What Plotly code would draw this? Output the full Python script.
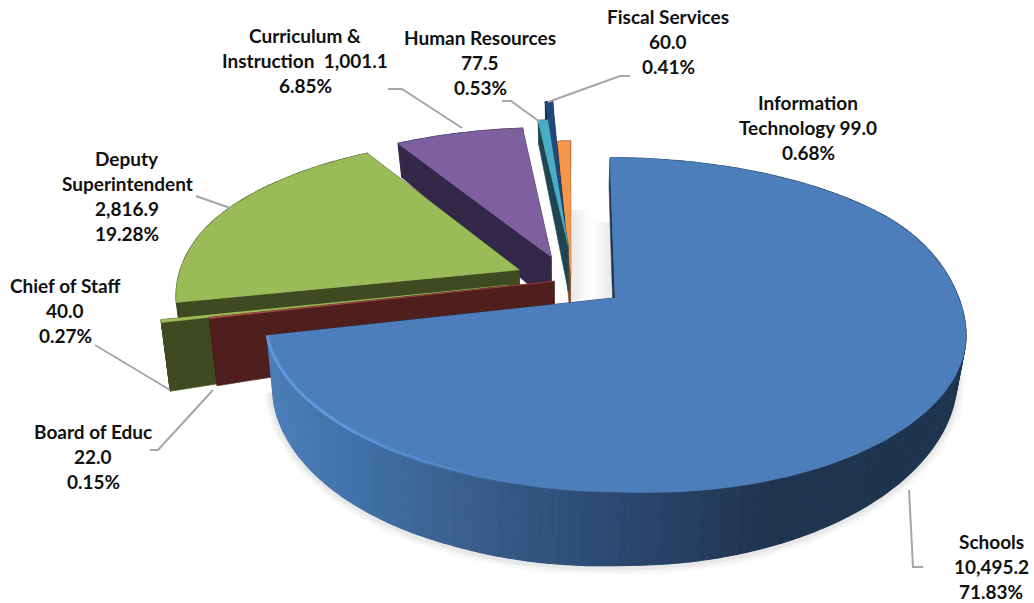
import numpy as np
import plotly.graph_objects as go

names = ["Schools", "Board of Educ", "Chief of Staff", "Deputy Superintendent",
         "Curriculum & Instruction", "Human Resources", "Fiscal Services", "Information Technology"]
amounts = [10495.2, 22.0, 40.0, 2816.9, 1001.1, 77.5, 60.0, 99.0]
percents = [71.83, 0.15, 0.27, 19.28, 6.85, 0.53, 0.41, 0.68]
explode = [0.175, 0.04, 0.175, 0.157, 0.157, 0.22, 0.39, 0.03]
nudge_u = [0, 0, 0, 0, 0, 0.02, 0.012, 0.009]
top_colors = ["#4B7EBB", "#C0504D", "#9BBB59", "#9BBB59", "#7F609F", "#4BACC6", "#1F497D", "#F79646"]
side_colors = ["#1F3550", "#4F1F1E", "#3F4A20", "#3F4A20", "#33274A", "#1F4650", "#10243E", "#7A4A20"]
draw_order = [7, 6, 4, 5, 3, 2, 1, 0]

label_lines = [
    (["Schools", "10,495.2", "71.83%"], 991, 541),
    (["Board of Educ", "22.0", "0.15%"], 93, 431),
    (["Chief of Staff", "40.0", "0.27%"], 65, 285),
    (["Deputy", "Superintendent", "2,816.9", "19.28%"], 127, 158),
    (["Curriculum &", "Instruction  1,001.1", "6.85%"], 305, 35),
    (["Human Resources", "77.5", "0.53%"], 480, 37),
    (["Fiscal Services", "60.0", "0.41%"], 668, 16),
    (["Information", "Technology 99.0", "0.68%"], 808, 102),
]
leaders = [
    [(909, 490), (913, 567), (923, 567)],
    [(213, 390), (158, 450), (150, 450)],
    [(95, 345), (170, 390)],
    [(196, 196), (230, 208)],
    [(388, 89), (402, 89), (462, 128)],
    [(502, 101), (511, 101), (540, 122)],
    [(630, 76), (620, 76), (548, 102)],
]
# view of the tilted disc
CX, CY, RX, RY, PERSP, PERSP_X = 568, 280, 343, 157, 0.16, 0.12

fracs = np.array(amounts) / sum(amounts)
edges = np.concatenate([[0], np.cumsum(fracs)]) * 2 * np.pi


def project(u, v):
    x = CX + RX * u / (1 + PERSP_X * v)
    y = CY - RY * v / (1 + PERSP * v)
    s = min(1, max(0, (0.45 - v) / 0.75))
    near = s * s * (3 - 2 * s)
    y += near * (15 * max(u - 0.14, 0) + 8 * max(-u - 0.3, 0))
    return x, y


def bottom(u, v):
    x, y = project(u, v)
    d = 50 - 12 * u - 22.5 * v
    return CX + (x - CX) * 0.978, y + d


def poly(fig, xs, ys, color, width=1.2, line=None):
    fig.add_trace(go.Scatter(x=list(xs), y=list(ys), mode="lines", fill="toself",
                             fillcolor=color, line=dict(color=line or color, width=width),
                             hoverinfo="skip", showlegend=False))


def lerp_color(stops, x):
    xs = [s[0] for s in stops]
    rgb = [np.interp(x, xs, [s[1][i] for s in stops]) for i in range(3)]
    return "rgb(%d,%d,%d)" % tuple(int(c) for c in rgb)


schools_stops = [(265, (77, 127, 184)), (372, (63, 110, 165)), (447, (60, 98, 143)),
                 (581, (45, 78, 120)), (715, (37, 60, 92)), (765, (31, 53, 80)), (970, (30, 52, 78))]

fig = go.Figure()

# soft shadows in the gap beside the small slices
for k in range(7):
    off = 2 + 2.5 * k
    poly(fig, [572, 572 + off, 572 + off, 572], [210, 210, 300, 300], "rgba(0,0,0,0.012)", 0)
    poly(fig, [611 - off, 611, 611, 611 - off], [222, 222, 300, 300], "rgba(0,0,0,0.012)", 0)

m0 = (edges[0] + edges[1]) / 2
su, sv = explode[0] * np.sin(m0), explode[0] * np.cos(m0)
# soft shadow under the largest slice
t = np.linspace(np.radians(75), np.radians(262), 120)
sh = [bottom(su + np.sin(a), sv + np.cos(a)) for a in t]
for width, alpha in [(18, 0.025), (12, 0.03), (7, 0.04)]:
    fig.add_trace(go.Scatter(x=[p[0] for p in sh], y=[p[1] + 1 for p in sh], mode="lines",
                             line=dict(color="rgba(0,0,0,%g)" % alpha, width=width),
                             hoverinfo="skip", showlegend=False))

for i in draw_order:
    a0, a1 = edges[i], edges[i + 1]
    mid = (a0 + a1) / 2
    ou, ov = explode[i] * np.sin(mid) + nudge_u[i], explode[i] * np.cos(mid)
    n = max(3, int(np.degrees(a1 - a0) / 1.5))
    t = np.linspace(a0, a1, n + 1)
    us, vs = ou + np.sin(t), ov + np.cos(t)
    ax, ay = project(ou, ov)
    bax, bay = bottom(ou, ov)

    # cut faces
    for k in (-1, 0):
        px, py = project(us[k], vs[k])
        qx, qy = bottom(us[k], vs[k])
        poly(fig, [ax, px, qx, bax], [ay, py, qy, bay], side_colors[i], 0.6)

    # outer wall
    for j in range(n):
        p0 = project(us[j], vs[j])
        p1 = project(us[j + 1], vs[j + 1])
        q0 = bottom(us[j], vs[j])
        q1 = bottom(us[j + 1], vs[j + 1])
        if i == 0:
            if vs[j] > 0.05 and us[j] < 0:
                continue
            color = lerp_color(schools_stops, (p0[0] + p1[0]) / 2)
        else:
            color = side_colors[i]
        poly(fig, [p0[0], p1[0], q1[0], q0[0]], [p0[1], p1[1], q1[1], q0[1]], color)

    # top face
    rim = [project(u, v) for u, v in zip(us, vs)]
    poly(fig, [ax] + [r[0] for r in rim], [ay] + [r[1] for r in rim], top_colors[i], 0.6)

# bevel highlight on the near-left rim of the largest slice, fading along the rim
t = np.linspace(edges[1] - 1.15, edges[1], 31)
for j in range(30):
    seg = [project(su + np.sin(a), sv + np.cos(a)) for a in t[j:j + 2]]
    fig.add_trace(go.Scatter(x=[p[0] for p in seg], y=[p[1] for p in seg], mode="lines",
                             line=dict(color="rgba(100,160,230,%.2f)" % (min(j / 15, 1) * 0.75 + 0.05), width=3),
                             hoverinfo="skip", showlegend=False))

for pts in leaders:
    fig.add_trace(go.Scatter(x=[p[0] for p in pts], y=[p[1] for p in pts], mode="lines",
                             line=dict(color="#A6A6A6", width=2), hoverinfo="skip", showlegend=False))

for lines, lx, ly in label_lines:
    for k, s in enumerate(lines):
        fig.add_annotation(x=lx, y=ly + k * 25, text="<b>%s</b>" % s, showarrow=False,
                           xanchor="center", yanchor="middle",
                           font=dict(family="Lato", size=19, color="#111111"))

fig.update_layout(
    width=1034, height=603, margin=dict(l=0, r=0, t=0, b=0),
    paper_bgcolor="white", plot_bgcolor="white", showlegend=False,
    xaxis=dict(range=[0, 1034], visible=False, fixedrange=True),
    yaxis=dict(range=[603, 0], visible=False, fixedrange=True),
)
fig.write_html("out.html", config=dict(displayModeBar=False),
               post_script="document.body.style.margin='0';document.body.style.overflow='hidden';")
